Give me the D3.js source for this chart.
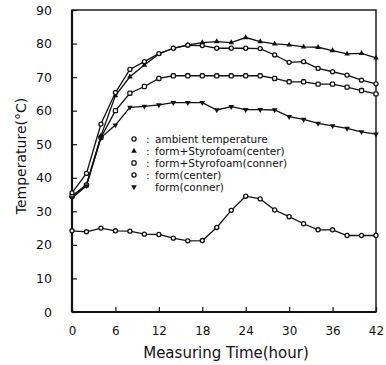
<!DOCTYPE html>
<html><head><meta charset="utf-8">
<script src="https://cdn.jsdelivr.net/npm/d3@7"></script>
<style>body{margin:0;background:#fff}svg{display:block}text{font-family:"DejaVu Sans",sans-serif;fill:#111}</style>
</head><body><svg id="c" width="386" height="365"></svg>
<script>
const hours = [0,2,4,6,8,10,12,14,16,18,20,22,24,26,28,30,32,34,36,38,40,42];
const ambient = [24.2,23.9,25.0,24.2,24.1,23.2,23.1,22.0,21.2,21.3,25.2,30.3,34.5,33.7,30.4,28.4,26.3,24.5,24.5,22.8,22.8,22.8];
const styroCenter = [34.5,38.0,52.5,64.5,70.1,73.6,76.9,78.6,79.6,80.3,80.6,80.3,81.8,80.6,79.9,79.6,79.0,78.9,77.9,76.9,77.1,75.7];
const styroConner = [34.5,37.8,52.0,60.0,65.2,67.2,69.6,70.4,70.4,70.4,70.4,70.4,70.4,70.4,69.6,68.6,68.6,67.9,67.9,67.0,66.0,65.0];
const formCenter = [35.5,41.3,56.0,65.4,72.3,74.6,77.0,78.6,79.5,79.4,78.6,78.6,78.6,78.5,76.6,74.4,74.6,72.6,71.6,70.6,69.1,68.0];
const formConner = [34.0,37.6,52.0,55.7,61.0,61.3,61.7,62.4,62.4,62.4,60.2,61.2,60.3,60.3,60.2,58.2,57.4,56.2,55.5,54.7,53.7,53.0];
const xTicks = [0,6,12,18,24,30,36,42];
const yTicks = [0,10,20,30,40,50,60,70,80,90];
const legendLabels = ["ambient temperature","form+Styrofoam(center)","form+Styrofoam(conner)","form(center)","form(conner)"];
const series = [ambient, styroCenter, styroConner, formCenter, formConner];
const symbolTypes = ["circle","triangle","square","circle","invtri"];

const svg = d3.select("#c");
const L=72,R=376,T=10,B=312;
const x = d3.scaleLinear().domain([0,42]).range([L,R]);
const y = d3.scaleLinear().domain([0,90]).range([B,T]);

svg.append("rect").attr("x",L).attr("y",T).attr("width",R-L).attr("height",B-T)
  .attr("fill","none").attr("stroke","#111").attr("stroke-width",1.4);
svg.append("line").attr("x1",L).attr("x2",L).attr("y1",T).attr("y2",B).attr("stroke","#111").attr("stroke-width",2.2);
svg.append("line").attr("x1",L).attr("x2",R).attr("y1",B).attr("y2",B).attr("stroke","#111").attr("stroke-width",2.2);

const xAxis = d3.axisBottom(x).tickValues(xTicks).tickSize(-5).tickPadding(14);
const gx = svg.append("g").attr("transform",`translate(0,${B})`).call(xAxis);
gx.select(".domain").remove();
gx.selectAll("line").attr("stroke","#111").attr("stroke-width",1.2);
gx.selectAll("text").attr("font-size",12).style("font-family","DejaVu Sans");

const yAxis = d3.axisLeft(y).tickValues(yTicks).tickSize(-5).tickPadding(20);
const gy = svg.append("g").attr("transform",`translate(${L},0)`).call(yAxis);
gy.select(".domain").remove();
gy.selectAll("line").attr("stroke","#111").attr("stroke-width",1.2);
gy.selectAll("text").attr("font-size",12.5).style("font-family","DejaVu Sans");

svg.append("text").attr("x",226).attr("y",358).attr("text-anchor","middle").attr("font-size",15).text("Measuring Time(hour)");
svg.append("text").attr("transform","translate(26,156) rotate(-90)").attr("text-anchor","middle").attr("font-size",14).text("Temperature(°C)");

function drawSym(g, type, cx, cy, s){
  if(type==="circle"){
    g.append("circle").attr("cx",cx).attr("cy",cy).attr("r",s*0.85).attr("fill","#fff").attr("stroke","#111").attr("stroke-width",1.3);
  } else if(type==="square"){
    g.append("rect").attr("x",cx-s*0.85).attr("y",cy-s*0.85).attr("width",s*1.7).attr("height",s*1.7).attr("rx",1)
      .attr("fill","#fff").attr("stroke","#111").attr("stroke-width",1.3);
  } else if(type==="triangle"){
    g.append("path").attr("d",d3.symbol(d3.symbolTriangle, s*s*2.4)()).attr("transform",`translate(${cx},${cy})`).attr("fill","#111");
  } else {
    g.append("path").attr("d",d3.symbol(d3.symbolTriangle, s*s*2.4)()).attr("transform",`translate(${cx},${cy}) rotate(180)`).attr("fill","#111");
  }
}

const line = d3.line().x((d,i)=>x(hours[i])).y(d=>y(d));
series.forEach((vals,k)=>{
  svg.append("path").datum(vals).attr("d",line).attr("fill","none").attr("stroke","#111").attr("stroke-width",1.3);
});
series.forEach((vals,k)=>{
  const g = svg.append("g");
  vals.forEach((v,i)=>drawSym(g, symbolTypes[k], x(hours[i]), y(v), 2.4));
});

const lg = svg.append("g");
legendLabels.forEach((t,i)=>{
  const yy = 139 + i*12;
  drawSym(lg, symbolTypes[i], 134, yy, 2.4);
  if(i<4) lg.append("text").attr("x",146).attr("y",yy+3.5).attr("font-size",10.5).text(":");
  lg.append("text").attr("x",155).attr("y",yy+3.5).attr("font-size",10.5).text(t);
});
</script></body></html>
